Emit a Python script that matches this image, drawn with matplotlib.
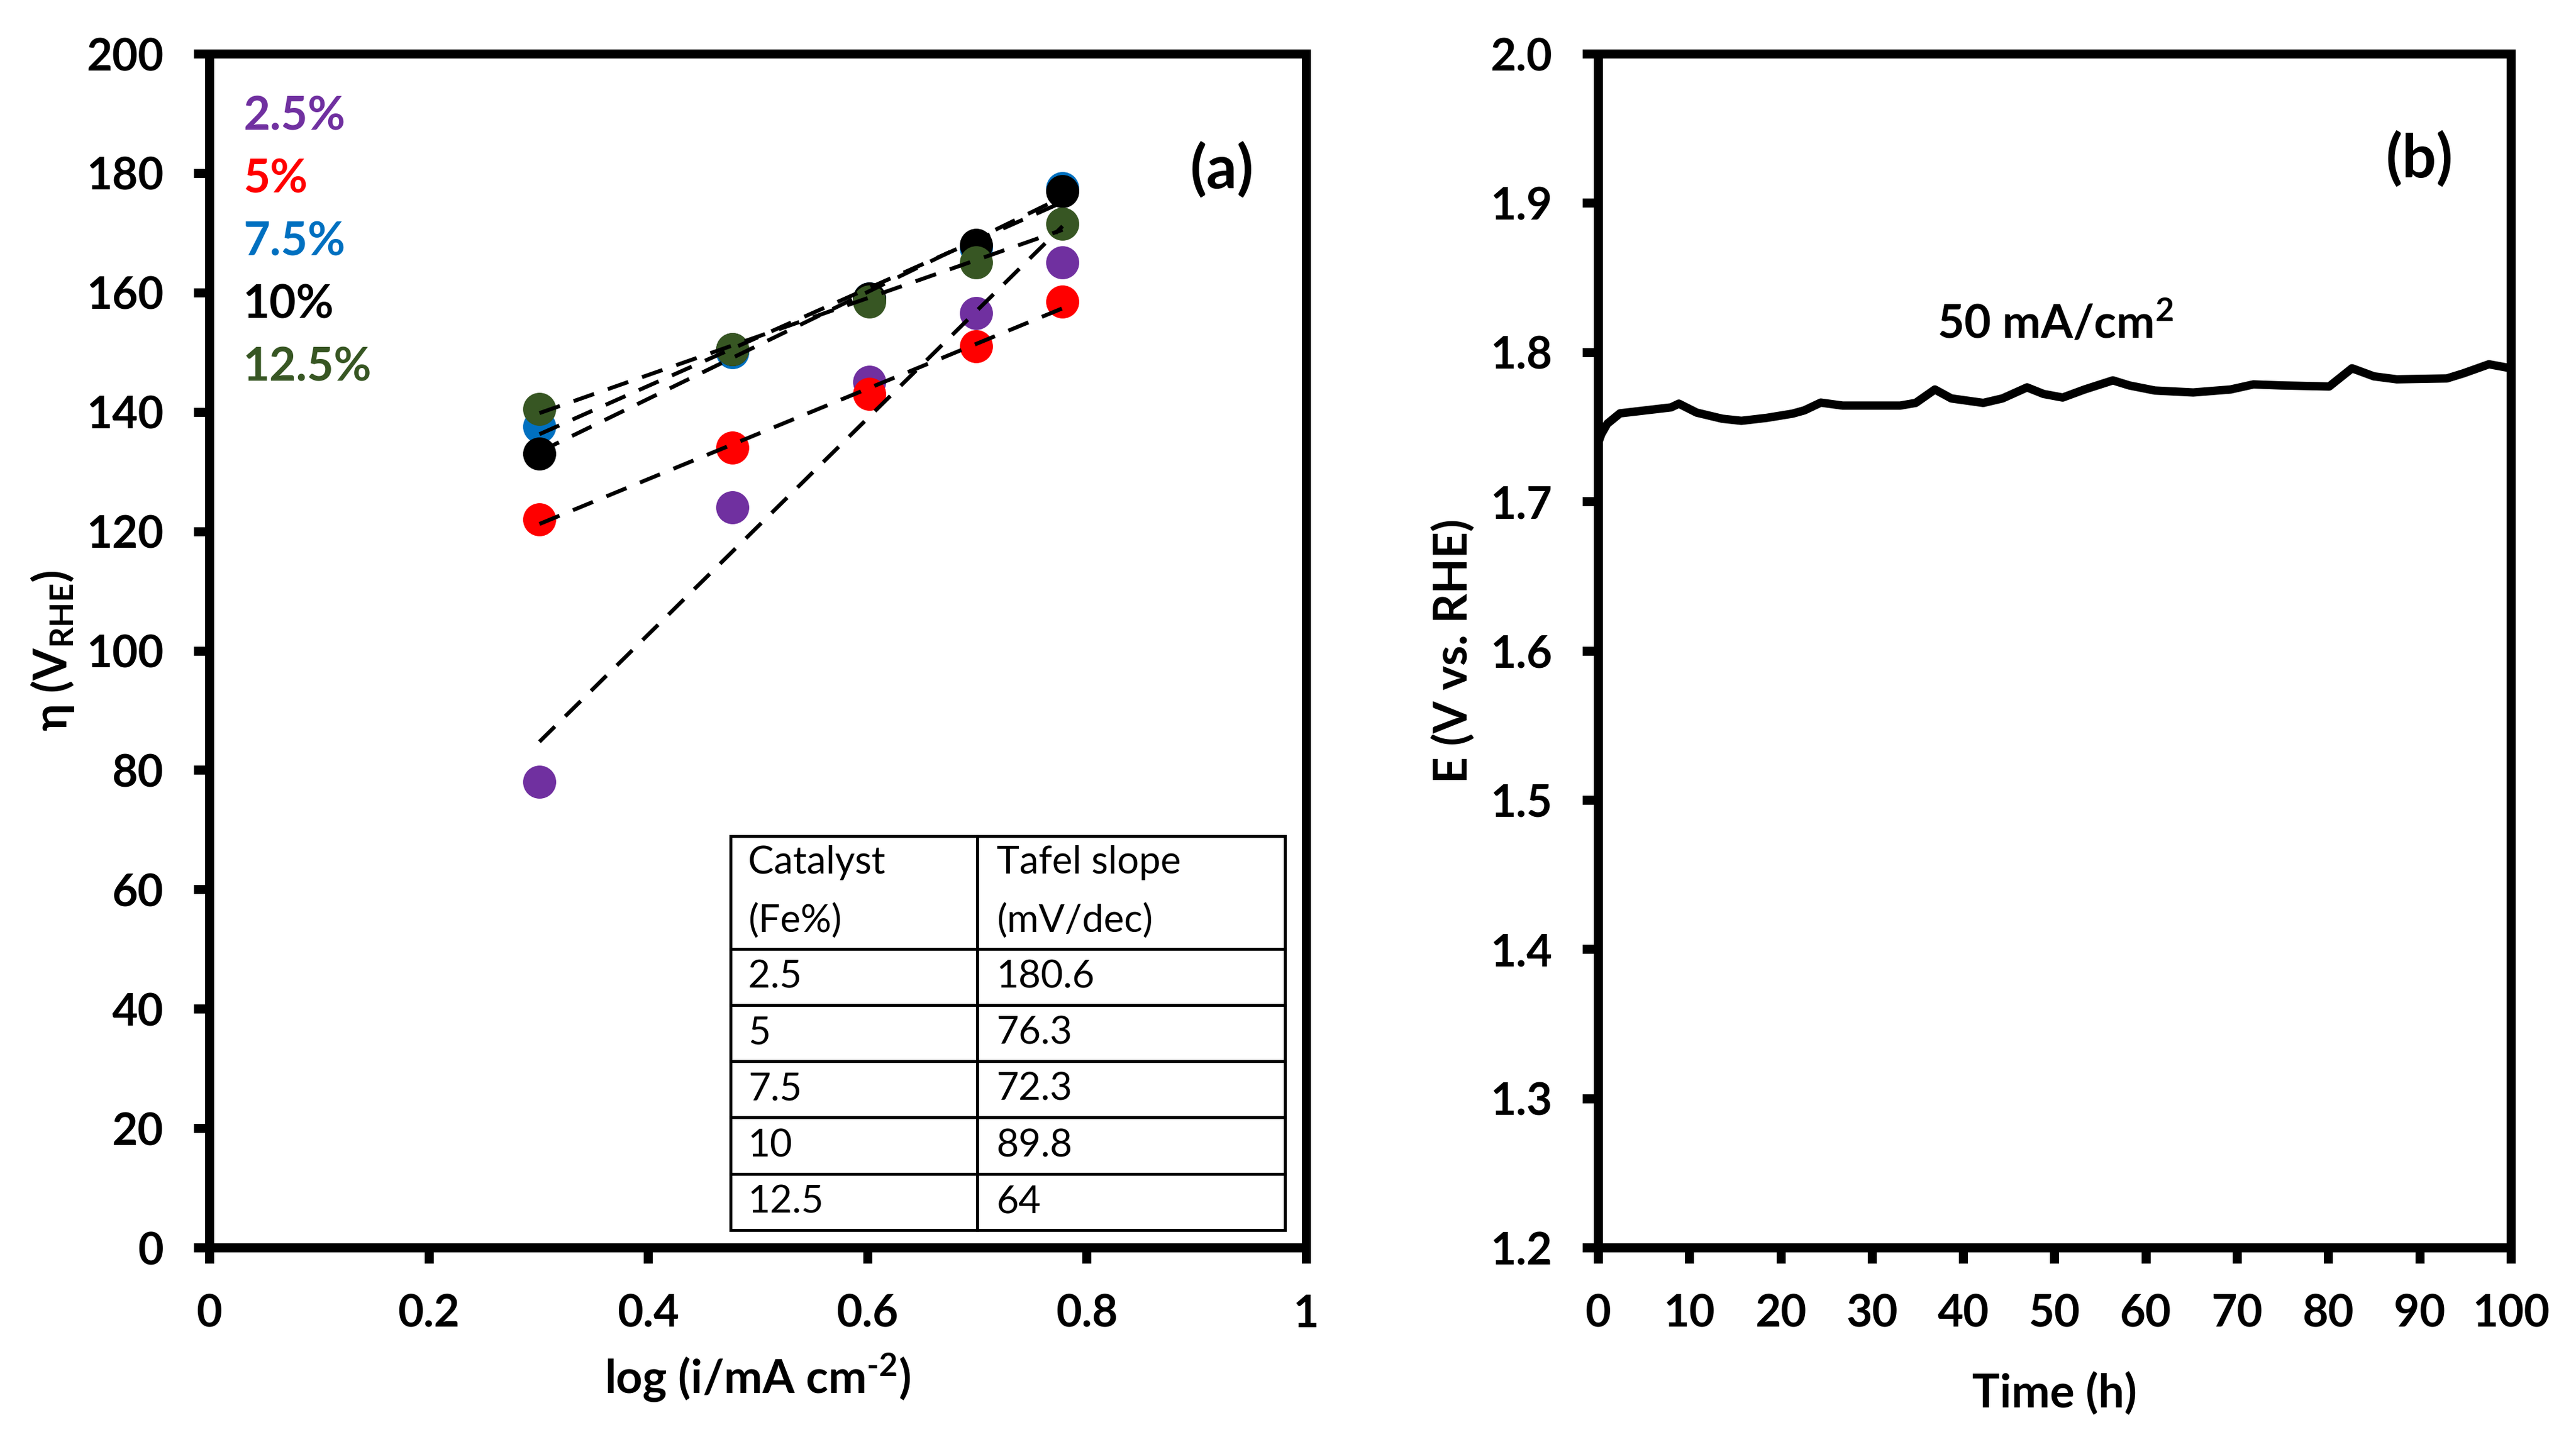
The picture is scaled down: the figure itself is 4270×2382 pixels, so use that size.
import numpy as np
import matplotlib
matplotlib.use("Agg")
import matplotlib.pyplot as plt

plt.rcParams['font.family'] = ['Lato', 'DejaVu Sans']
plt.rcParams['font.weight'] = 'bold'
plt.rcParams['mathtext.fontset'] = 'custom'
plt.rcParams['mathtext.rm'] = 'Lato:bold'
plt.rcParams['mathtext.bf'] = 'Lato:bold'
plt.rcParams['mathtext.it'] = 'Lato:bold:italic'

# ---- data, panel (a): Tafel plots ----
log_i = [0.301, 0.477, 0.602, 0.699, 0.778]
catalysts = ['2.5%', '5%', '7.5%', '10%', '12.5%']
eta_25 = [78, 124, 145, 156.5, 165]
eta_5 = [122, 134, 143, 151, 158.5]
eta_75 = [137.5, 150, 159, 167.5, 177.5]
eta_10 = [133, 150.5, 159, 168, 177]
eta_125 = [140.5, 150.5, 158.5, 165, 171.5]
series = [eta_25, eta_5, eta_75, eta_10, eta_125]
colors = ['#7030A0', '#FF0000', '#0070C0', '#000000', '#375623']

table_fe = ['2.5', '5', '7.5', '10', '12.5']
table_slope = ['180.6', '76.3', '72.3', '89.8', '64']

xticks_a = [0, 0.2, 0.4, 0.6, 0.8, 1.0]
xticklabels_a = ['0', '0.2', '0.4', '0.6', '0.8', '1']
yticks_a = list(range(0, 201, 20))

# ---- data, panel (b): chronopotentiometry at 50 mA/cm2 ----
time_h = [0, 0.35, 1.0, 2.4, 5.2, 8.0, 8.85, 10.8, 13.6, 15.7, 18.5, 21.3,
          22.6, 24.4, 26.8, 33.1, 34.8, 36.9, 38.7, 42.2, 44.3, 47.0, 48.8,
          50.9, 53.3, 56.4, 58.2, 61.0, 65.2, 69.3, 71.8, 74.9, 80.1, 82.6,
          85.0, 87.5, 93.0, 94.8, 97.6, 100]
potential = [1.739, 1.745, 1.752, 1.759, 1.761, 1.763, 1.7655, 1.7595,
             1.7554, 1.754, 1.756, 1.7588, 1.761, 1.7662, 1.7642, 1.7642,
             1.766, 1.775, 1.769, 1.766, 1.769, 1.7764, 1.772, 1.7696, 1.775,
             1.7811, 1.7777, 1.7743, 1.773, 1.775, 1.7784, 1.7777, 1.777,
             1.7892, 1.7838, 1.7818, 1.7824, 1.7858, 1.7919, 1.7892]
xticks_b = list(range(0, 101, 10))
yticks_b = [1.2, 1.3, 1.4, 1.5, 1.6, 1.7, 1.8, 1.9, 2.0]

TICK_FS = 53
LABEL_FS = 55
SPINE_W = 10.8

fig = plt.figure(figsize=(42.7, 23.82), dpi=100)
ax1 = fig.add_axes([0.08126, 0.13182, 0.42576, 0.83081])
ax2 = fig.add_axes([0.62037, 0.13182, 0.35433, 0.83081])


def style_axes(ax):
    for sp in ax.spines.values():
        sp.set_linewidth(SPINE_W)
    ax.tick_params(direction='out', length=18.7, width=SPINE_W,
                   labelsize=TICK_FS, pad=36)


# ---------- panel (a) ----------
style_axes(ax1)
x = np.array(log_i)
for name, y, c in zip(catalysts, series, colors):
    ax1.plot(x, y, 'o', color=c, ms=39.5, mec='none', zorder=3)
for y in series:
    k, b = np.polyfit(x, y, 1)
    xx = np.array([x[0], x[-1]])
    ax1.plot(xx, k * xx + b, color='black', lw=4.7, dashes=(5.5, 3.7), zorder=4)

for i, (name, c) in enumerate(zip(catalysts, colors)):
    ax1.text(0.031, 189.4 - i * 10.5, name, color=c, fontsize=55,
             fontweight='bold', ha='left', va='center')
ax1.text(0.923, 180.5, '(a)', fontsize=72, fontweight='bold',
         ha='center', va='center')

ax1.set_xlim(0, 1)
ax1.set_ylim(0, 200)
ax1.set_xticks(xticks_a)
ax1.set_xticklabels(xticklabels_a)
ax1.set_yticks(yticks_a)
ax1.set_xlabel('log (i/mA cm$^{\\text{-2}}$)', fontsize=LABEL_FS,
               fontweight='bold')
ax1.set_ylabel('η (V$_{\\mathregular{RHE}}$)', fontsize=LABEL_FS,
               fontweight='bold')
ax1.xaxis.set_label_coords(0.5, -0.1086)
ax1.xaxis.label.set_va('center')
ax1.yaxis.set_label_coords(-0.143, 0.5)
ax1.yaxis.label.set_va('center')

cell_text = [['Catalyst\n(Fe%)', 'Tafel slope\n(mV/dec)']]
cell_text += [[fe, s] for fe, s in zip(table_fe, table_slope)]
tbl = ax1.table(cellText=cell_text, colWidths=[415, 517], cellLoc='left',
                bbox=[0.475, 0.01465, 0.506, 0.33], zorder=5)
tbl.auto_set_font_size(False)
for (r, col), cell in tbl.get_celld().items():
    cell.set_linewidth(3.5)
    cell.set_edgecolor('black')
    cell.set_height(2.0 if r == 0 else 1.0)
    cell.PAD = 0.072 if col == 0 else 0.062
    t = cell.get_text()
    t.set_fontsize(46)
    t.set_fontweight('normal')
    t.set_linespacing(1.8)

# ---------- panel (b) ----------
style_axes(ax2)
ax2.plot(time_h, potential, color='black', lw=10, solid_joinstyle='round')
ax2.text(50.1, 1.819, '50 mA/cm$^{\\mathregular{2}}$', fontsize=55,
         fontweight='bold', ha='center', va='center')
ax2.text(90.0, 1.929, '(b)', fontsize=72, fontweight='bold',
         ha='center', va='center')
ax2.set_xlim(0, 100)
ax2.set_ylim(1.2, 2.0)
ax2.set_xticks(xticks_b)
ax2.set_yticks(yticks_b)
ax2.set_yticklabels(['%.1f' % v for v in yticks_b])
ax2.set_xlabel('Time (h)', fontsize=LABEL_FS, fontweight='bold')
ax2.set_ylabel('E (V vs. RHE)', fontsize=LABEL_FS, fontweight='bold')
ax2.xaxis.set_label_coords(0.5, -0.122)
ax2.xaxis.label.set_va('center')
ax2.yaxis.set_label_coords(-0.1586, 0.5)
ax2.yaxis.label.set_va('center')

fig.savefig('out.png', dpi=100)
